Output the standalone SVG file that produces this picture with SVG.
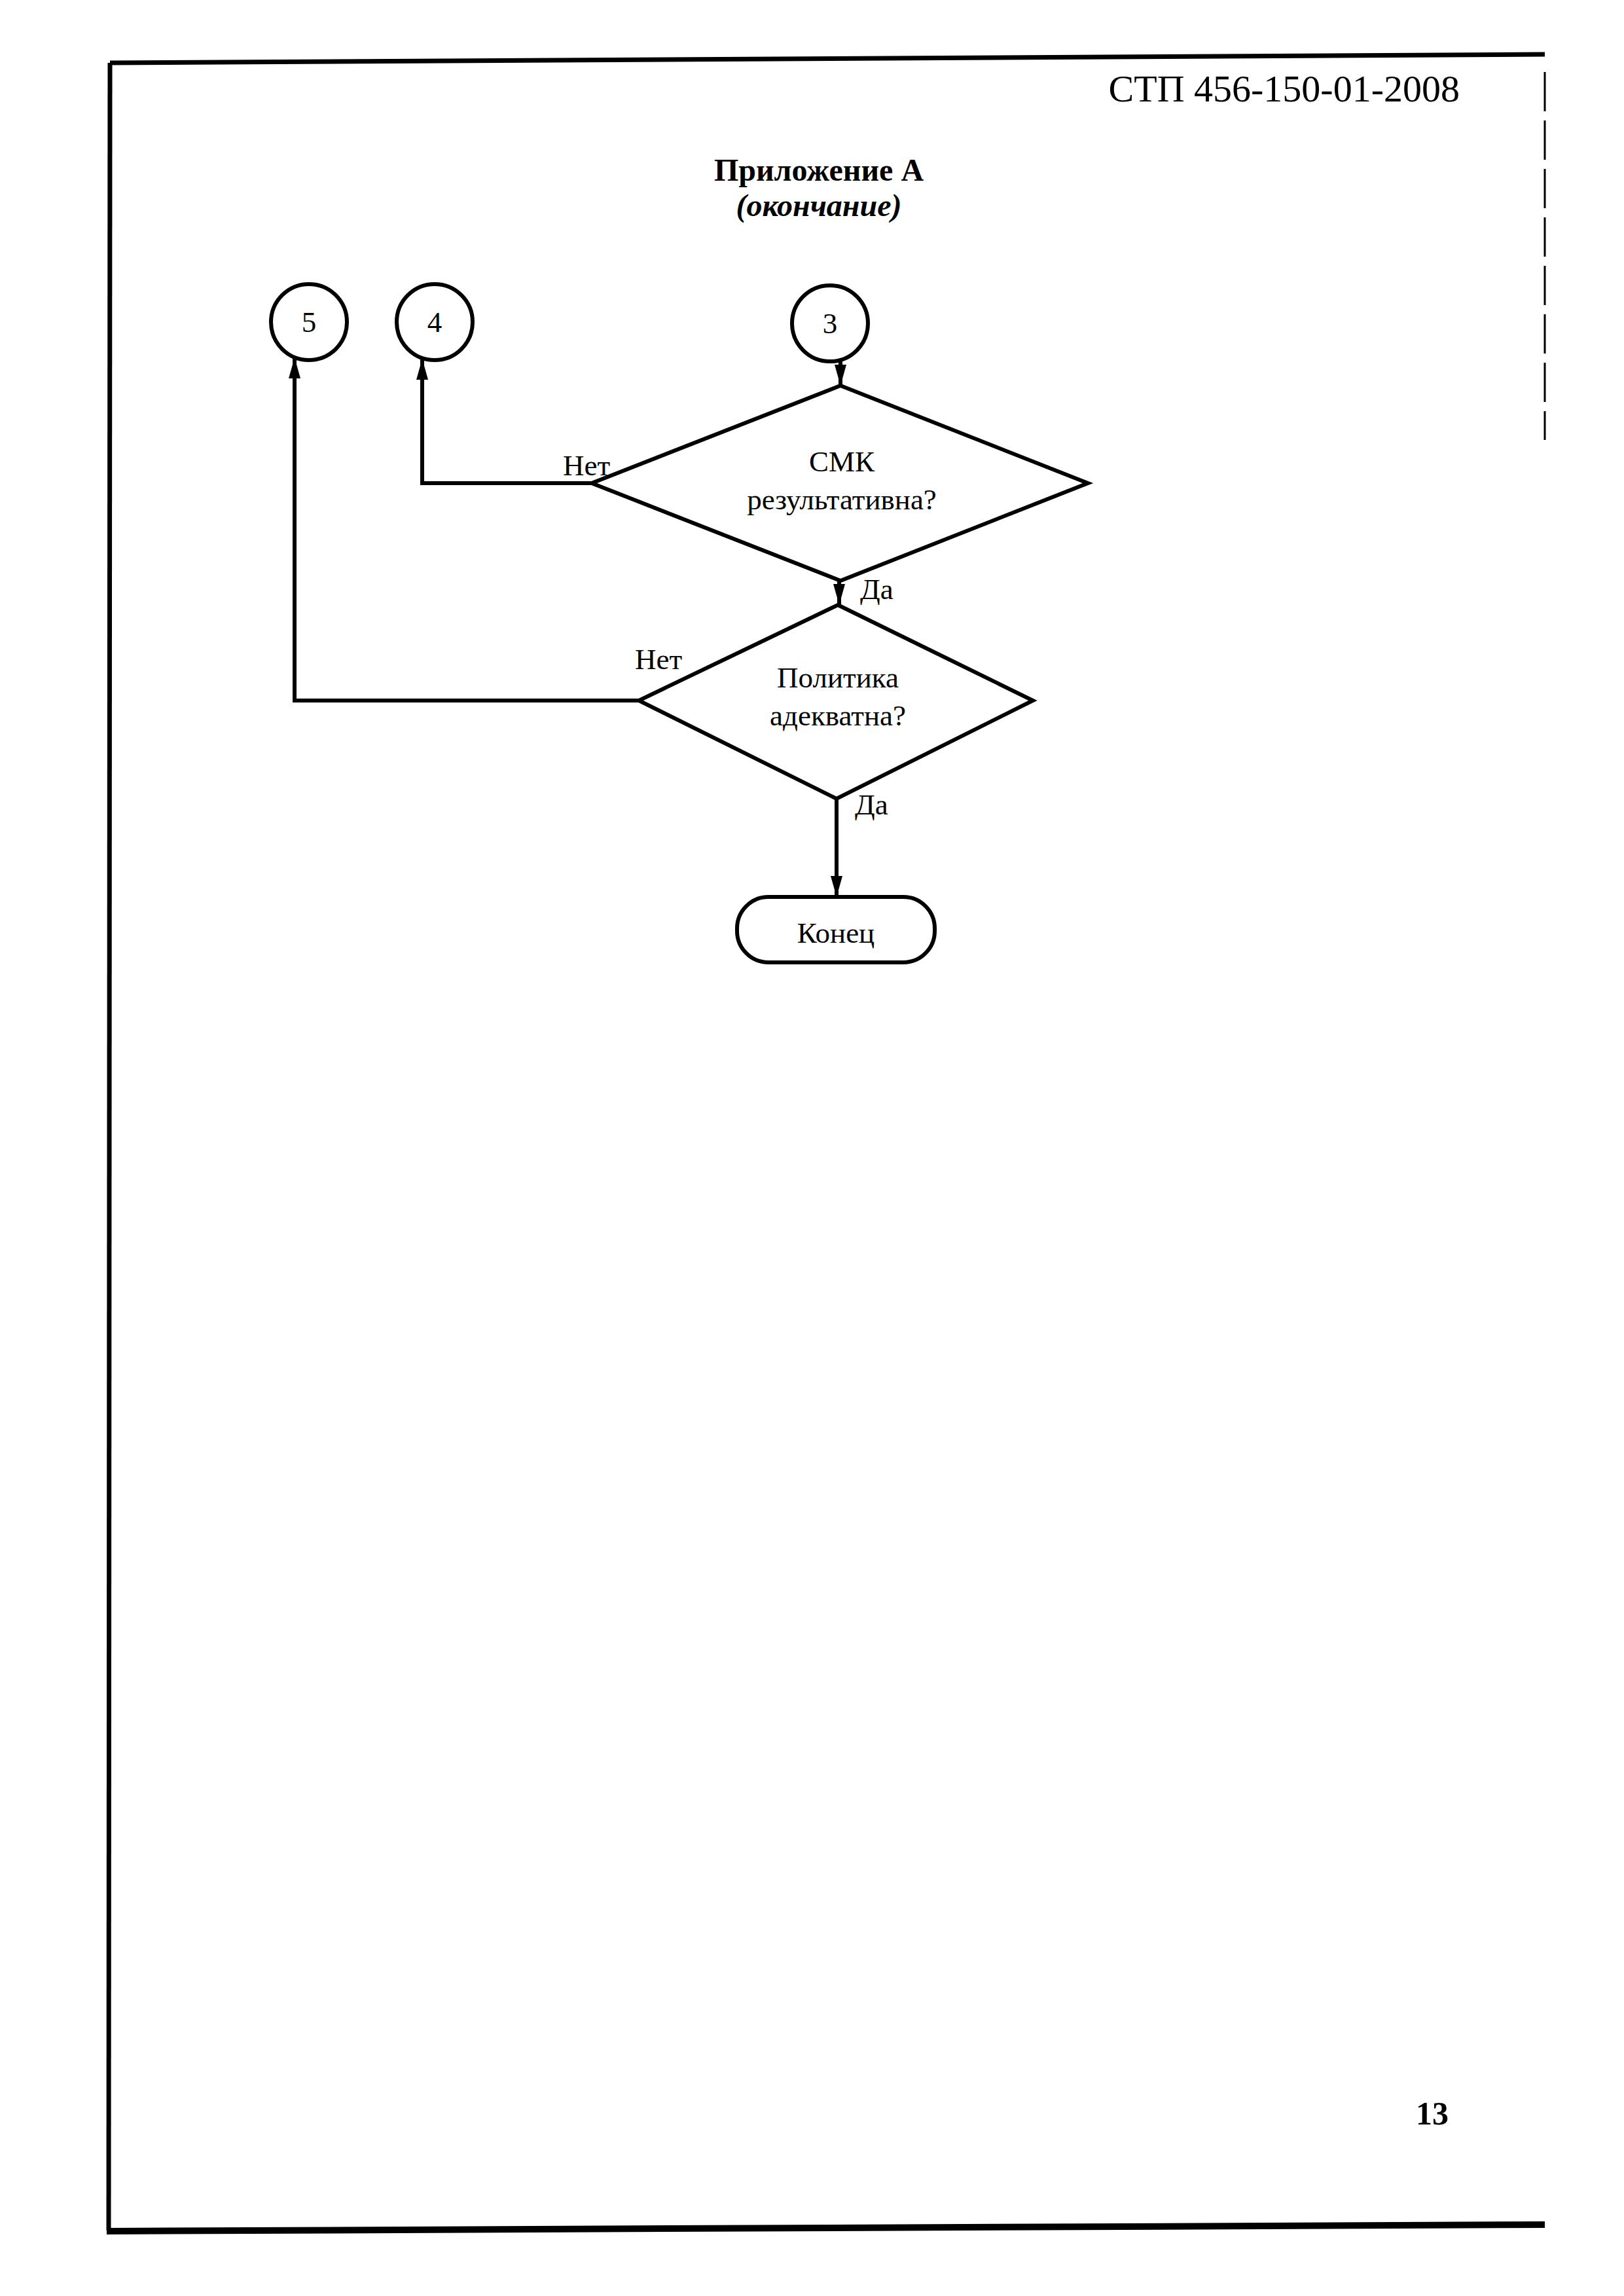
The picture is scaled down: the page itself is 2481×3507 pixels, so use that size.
<svg xmlns="http://www.w3.org/2000/svg" width="2481" height="3507" viewBox="0 0 2481 3507">
<defs>
<style>
.t{font-family:"Liberation Serif","Times New Roman",serif;fill:#000}
.lbl{font-size:45px}
.shape{fill:none;stroke:#000;stroke-width:6}
.conn{fill:none;stroke:#000;stroke-width:6}
.frame{fill:none;stroke:#000;stroke-width:7}
</style>
<marker id="arr" markerUnits="userSpaceOnUse" markerWidth="34" markerHeight="20" refX="32" refY="9" orient="auto">
<path d="M0,0 L32,9 L0,18 z" fill="#000"/>
</marker>
</defs>
<rect width="2481" height="3507" fill="#fff"/>
<g id="page-frame">
<path class="frame" d="M168,96 L2360,83"/>
<path class="frame" d="M168,96 L166,3407"/>
<path d="M163,3408 L2360,3398" fill="none" stroke="#000" stroke-width="10"/>
<path d="M2360,110 V672" fill="none" stroke="#000" stroke-width="3" stroke-dasharray="60,14"/>
</g>
<text class="t" x="2230" y="155" font-size="58" text-anchor="end">СТП 456-150-01-2008</text>
<text class="t" x="1251" y="276" font-size="48" font-weight="bold" text-anchor="middle">Приложение А</text>
<text class="t" x="1251" y="330" font-size="48" font-weight="bold" font-style="italic" text-anchor="middle">(окончание)</text>
<text class="t" x="2188" y="3245" font-size="50" font-weight="bold" text-anchor="middle">13</text>

<g id="node-c5">
<circle class="shape" cx="472" cy="492" r="58"/>
<text class="t lbl" x="472" y="507" text-anchor="middle">5</text>
</g>
<g id="node-c4">
<circle class="shape" cx="664" cy="492" r="58"/>
<text class="t lbl" x="664" y="507" text-anchor="middle">4</text>
</g>
<g id="node-c3">
<circle class="shape" cx="1268" cy="494" r="58"/>
<text class="t lbl" x="1268" y="509" text-anchor="middle">3</text>
</g>
<g id="node-d1">
<polygon class="shape" points="1284,589 1662,738 1284,887 904,738"/>
<text class="t lbl" x="1286" y="720" text-anchor="middle">СМК</text>
<text class="t lbl" x="1286" y="778" text-anchor="middle">результативна?</text>
</g>
<g id="node-d2">
<polygon class="shape" points="1280,924 1578,1070 1278,1220 976,1070"/>
<text class="t lbl" x="1280" y="1050" text-anchor="middle">Политика</text>
<text class="t lbl" x="1280" y="1108" text-anchor="middle">адекватна?</text>
</g>
<g id="node-end">
<rect class="shape" x="1126" y="1370" width="302" height="100" rx="48" ry="48"/>
<text class="t lbl" x="1277" y="1440" text-anchor="middle">Конец</text>
</g>

<g id="connectors">
<path class="conn" d="M1284,552 V589" marker-end="url(#arr)"/>
<path class="conn" d="M1282,887 V924" marker-end="url(#arr)"/>
<path class="conn" d="M904,738 H645 V548" marker-end="url(#arr)"/>
<path class="conn" d="M976,1070 H450 V546" marker-end="url(#arr)"/>
<path class="conn" d="M1278,1220 V1370" marker-end="url(#arr)"/>
<text class="t lbl" x="860" y="726">Нет</text>
<text class="t lbl" x="1314" y="915">Да</text>
<text class="t lbl" x="970" y="1022">Нет</text>
<text class="t lbl" x="1306" y="1244">Да</text>
</g>
</svg>
